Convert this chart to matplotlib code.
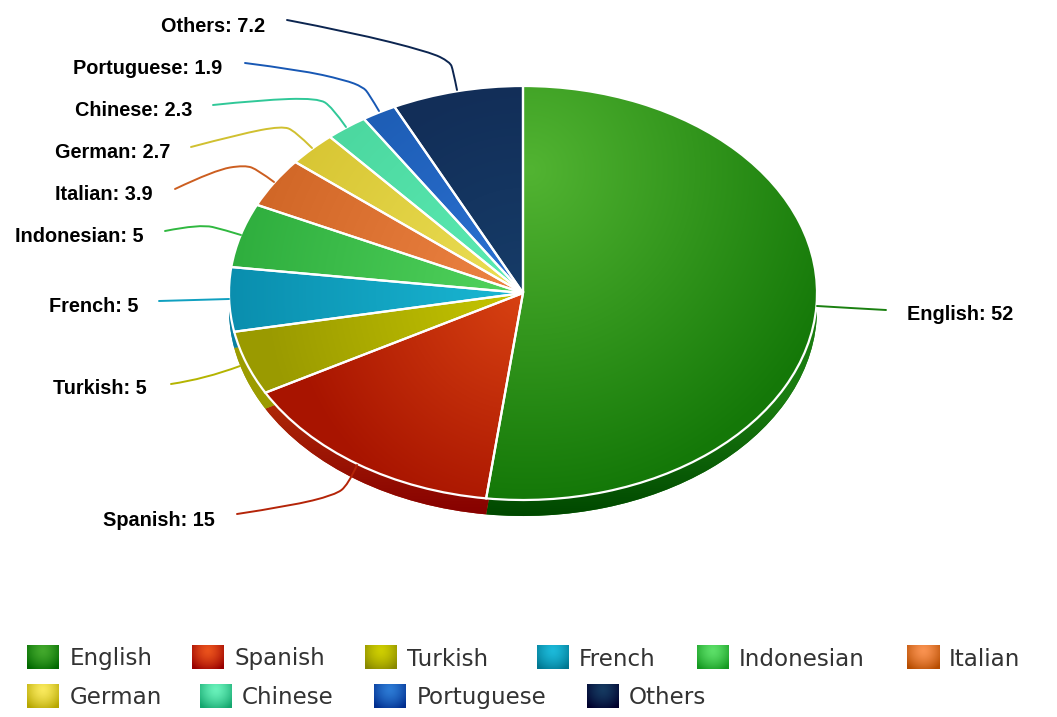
import numpy as np
import matplotlib
matplotlib.use("Agg")
import matplotlib.pyplot as plt
from matplotlib.colors import to_rgb
from matplotlib.path import Path
from matplotlib.patches import PathPatch
from matplotlib.transforms import Affine2D

# ---- data ----
languages = ["English", "Spanish", "Turkish", "French", "Indonesian",
             "Italian", "German", "Chinese", "Portuguese", "Others"]
shares = [52, 15, 5, 5, 5, 3.9, 2.7, 2.3, 1.9, 7.2]

# ---- styles ----
top_inner = ["#52b432", "#d84212", "#c6c600", "#1ab8d4", "#52d45e",
             "#ee8444", "#ecdf55", "#5cecb4", "#2c72d4", "#163c68"]
top_outer = ["#147808", "#a81400", "#9a9a00", "#0a8eae", "#2fae3e",
             "#d06626", "#d8c634", "#4cd8a0", "#1e5eb6", "#122e58"]
top_radius = [330, 235, 260, 294, 290, 285, 260, 240, 225, 210]
side_start = ["#1a7c10", "#b02a08", "#9c9c00", "#0a80a0", "#2fae3e",
              "#c05a20", "#b8a820", "#30b080", "#1a50a0", "#0c2040"]
side_end = ["#004800", "#860000", "#7a7a00", "#005f70", "#107a18",
            "#8a3c00", "#887800", "#107a50", "#002a70", "#000020"]
legend_inner = ["#42a82c", "#ea521c", "#cece00", "#1cb9d9", "#5cdf68",
                "#f99250", "#f9e95c", "#68f1ba", "#2c7ad4", "#153960"]
legend_outer = ["#006800", "#980000", "#888800", "#007690", "#149820",
                "#b64c00", "#b6a600", "#14a66e", "#002e8e", "#00002c"]
leader_colors = ["#1a8010", "#b42408", "#b4b400", "#10a0c0", "#30b840",
                 "#cc5e20", "#d0c030", "#30c898", "#1858b4", "#0c2550"]

W, H = 1057, 717
CX, CY, RX, RY, DEPTH = 523, 293, 294, 207, 16

fig = plt.figure(figsize=(W / 100, H / 100), dpi=100, facecolor="white")
px = Affine2D().scale(1 / W, -1 / H).translate(0, 1) + fig.transFigure
ax = fig.add_axes([0, 0, 1, 1])

xlim = (-CX / RX, (W - CX) / RX)
ylim = (-(H - CY) / RY, CY / RY)
extent = (xlim[0], xlim[1], ylim[0], ylim[1])
xx, yy = np.meshgrid(np.arange(W) + 0.5, np.arange(H) + 0.5)


def blend(c0, c1, t):
    c0, c1 = np.array(to_rgb(c0)), np.array(to_rgb(c1))
    return c0 + (c1 - c0) * t[..., None]


pie_args = dict(startangle=90, counterclock=False, radius=1)

# side wall
side, _ = ax.pie(shares, center=(0, -DEPTH / RY), colors=side_start,
                 wedgeprops=dict(linewidth=0, zorder=1), **pie_args)
# top base
top, _ = ax.pie(shares, colors=top_inner,
                wedgeprops=dict(linewidth=0, zorder=3), **pie_args)
# outline over the gradients
ax.pie(shares, colors=["none"] * len(shares),
       wedgeprops=dict(edgecolor="white", linewidth=1.6, zorder=6), **pie_args)

t_side = np.clip((yy - 400) / (515 - 400), 0, 1)
for i in range(len(shares)):
    img = blend(side_start[i], side_end[i], t_side)
    im = ax.imshow(img, extent=extent, origin="upper", aspect="auto", zorder=2)
    im.set_clip_path(side[i])

    gx, gy = (530, 170) if i == 0 else (CX, CY)
    dist = np.hypot(xx - gx, yy - gy)
    img = blend(top_inner[i], top_outer[i], np.clip(dist / top_radius[i], 0, 1))
    im = ax.imshow(img, extent=extent, origin="upper", aspect="auto", zorder=4)
    im.set_clip_path(top[i])

ax.set_aspect("auto")
ax.set_xlim(*xlim)
ax.set_ylim(*ylim)
ax.axis("off")

# ---- data labels and leaders (pixel layout) ----
label_pos = [(907, 314), (103, 520), (53, 388), (49, 306), (15, 236),
             (55, 194), (55, 152), (75, 110), (73, 68), (161, 26)]
leaders = [
    [(817, 306), (850, 308), (886, 310)],
    [(237, 514), (290, 506), (335, 495), (348, 485), (357, 465)],
    [(171, 384), (205, 379), (240, 366)],
    [(159, 301), (195, 300), (229, 299)],
    [(165, 231), (200, 224), (225, 230), (241, 235)],
    [(175, 189), (215, 170), (245, 165), (258, 170), (274, 182)],
    [(191, 147), (240, 134), (282, 126), (295, 131), (312, 148)],
    [(213, 105), (260, 100), (318, 98), (332, 107), (346, 127)],
    [(245, 63), (300, 70), (345, 80), (363, 87), (369, 94), (379, 111)],
    [(287, 20), (350, 32), (430, 52), (450, 62), (453, 70), (457, 90)],
]
for i, name in enumerate(languages):
    x, y = label_pos[i]
    fig.text(x, y, f"{name}: {shares[i]:g}", transform=px, ha="left",
             va="center", fontsize=14.3, fontweight="bold",
             family="Liberation Sans", color="black")
    pts = leaders[i]
    verts, codes = [pts[0]], [Path.MOVETO]
    for j in range(1, len(pts) - 1):
        end = pts[j + 1] if j == len(pts) - 2 else (
            (pts[j][0] + pts[j + 1][0]) / 2, (pts[j][1] + pts[j + 1][1]) / 2)
        verts += [pts[j], end]
        codes += [Path.CURVE3, Path.CURVE3]
    fig.add_artist(PathPatch(Path(verts, codes), transform=px, fill=False,
                             edgecolor=leader_colors[i], linewidth=1.4,
                             capstyle="round"))

# ---- legend ----
swatch_x = [27, 192.5, 365, 536.5, 697, 907, 27, 200, 374, 587]
text_x = [70, 235, 407, 579, 739, 949, 70, 242, 417, 629]
row_y = [645, 683.5]
SW, SH = 32, 24.5
sx, sy = np.meshgrid(np.linspace(-1, 1, 64), np.linspace(0, 1, 49))
for i, name in enumerate(languages):
    top_y = row_y[0] if i < 6 else row_y[1]
    a = fig.add_axes([swatch_x[i] / W, 1 - (top_y + SH) / H, SW / W, SH / H])
    dist = np.clip(np.hypot(sx * 0.75, (sy - 0.25) * 1.1), 0, 1) ** 1.5
    a.imshow(blend(legend_inner[i], legend_outer[i], dist), aspect="auto")
    a.axis("off")
    fig.text(text_x[i], top_y + 14, name, transform=px, ha="left", va="center",
             fontsize=16.6, family="DejaVu Sans", color="#333333")

fig.savefig("out.png", dpi=100, facecolor="white")
